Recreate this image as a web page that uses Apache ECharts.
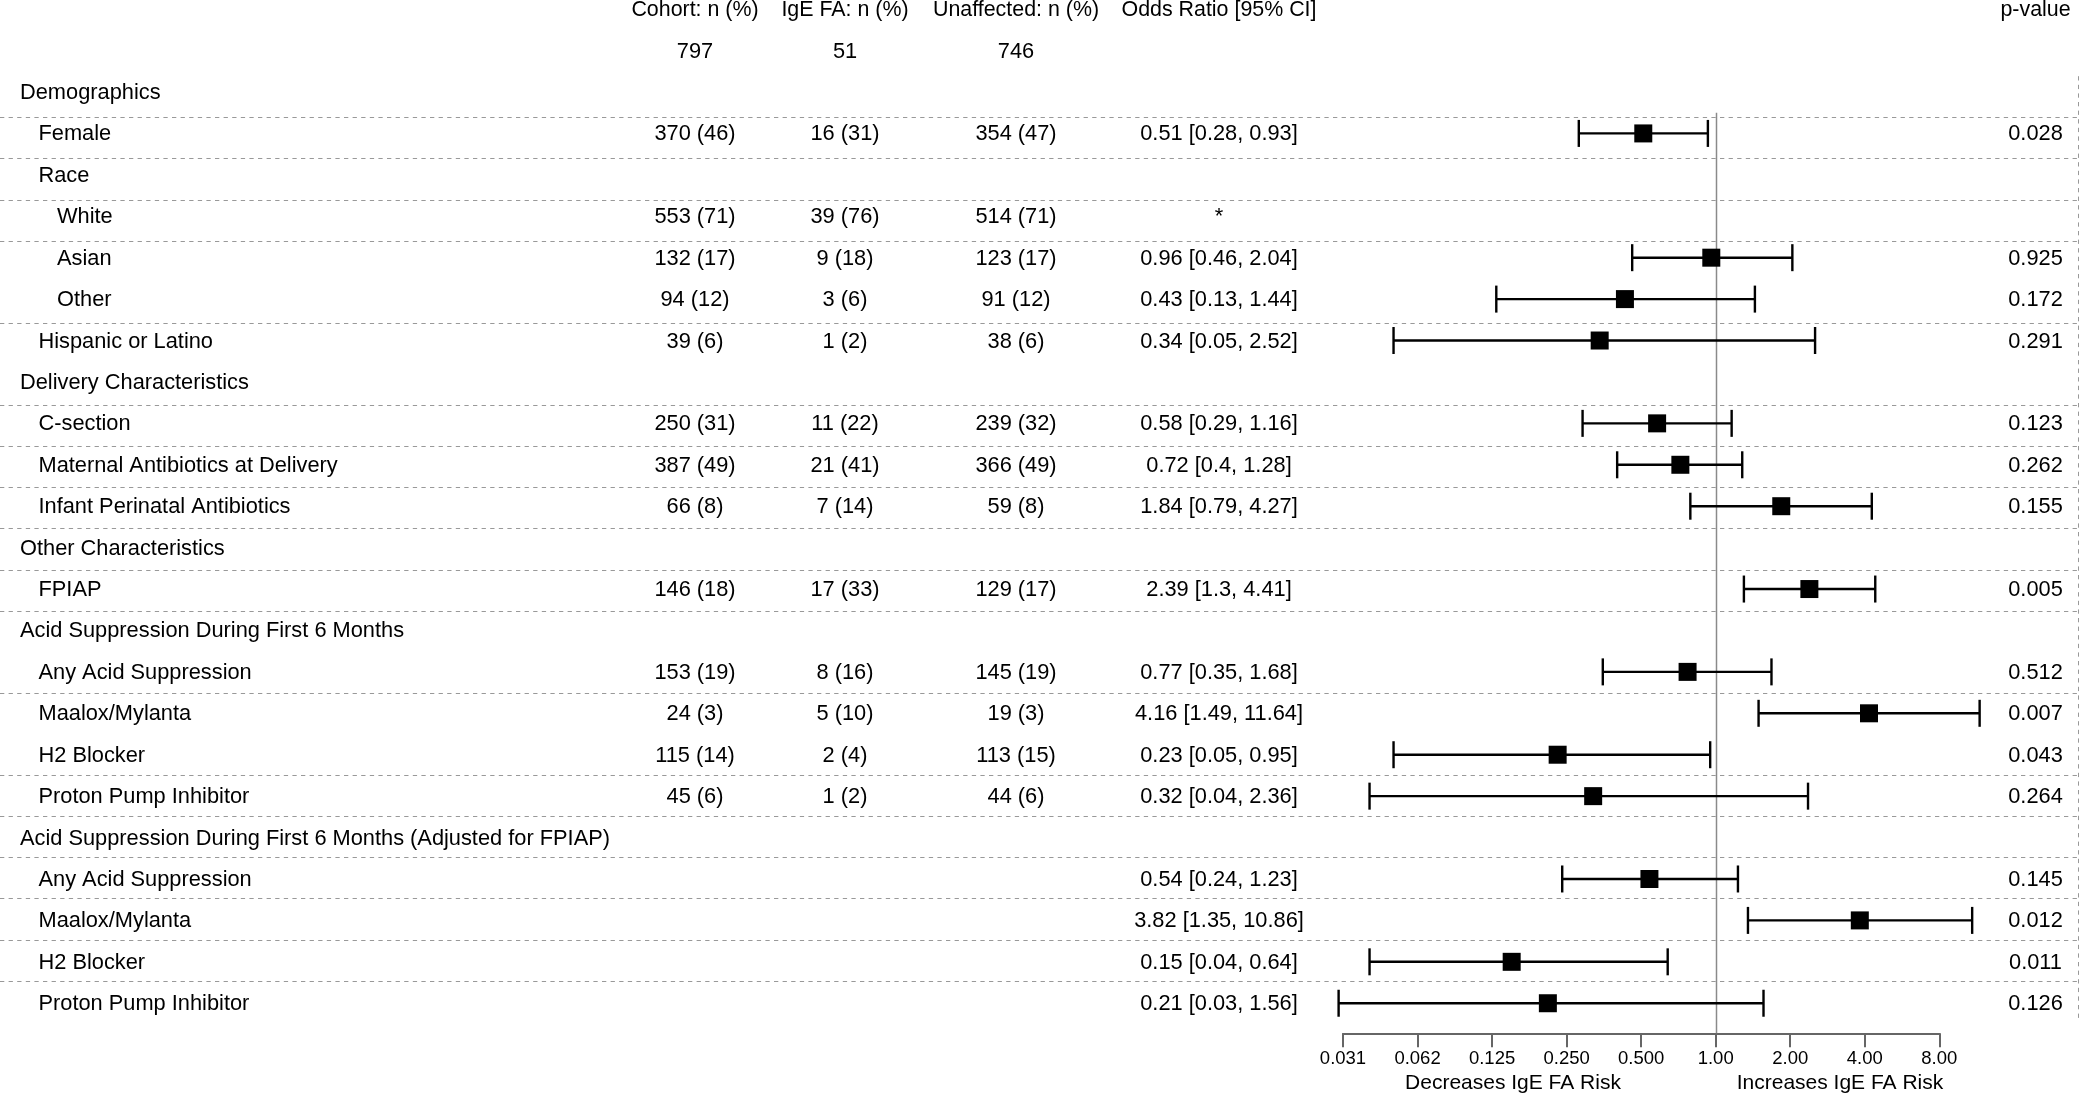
<!DOCTYPE html>
<html><head><meta charset="utf-8">
<script src="https://cdn.jsdelivr.net/npm/echarts@6/dist/echarts.min.js"></script>
<style>html,body{margin:0;padding:0;background:#fff}#c{width:2080px;height:1096px}</style>
</head><body><div id="c"></div><script>
// ---------------- DATA ----------------
const rowLabels = [
  'Demographics', 'Female', 'Race', 'White', 'Asian', 'Other', 'Hispanic or Latino',
  'Delivery Characteristics', 'C-section', 'Maternal Antibiotics at Delivery', 'Infant Perinatal Antibiotics',
  'Other Characteristics', 'FPIAP',
  'Acid Suppression During First 6 Months', 'Any Acid Suppression', 'Maalox/Mylanta', 'H2 Blocker', 'Proton Pump Inhibitor',
  'Acid Suppression During First 6 Months (Adjusted for FPIAP)', 'Any Acid Suppression', 'Maalox/Mylanta', 'H2 Blocker', 'Proton Pump Inhibitor'
];
const rowLevels = [0,1,1,2,2,2,1, 0,1,1,1, 0,1, 0,1,1,1,1, 0,1,1,1,1];
const cohortN = ['', '370 (46)', '', '553 (71)', '132 (17)', '94 (12)', '39 (6)',
  '', '250 (31)', '387 (49)', '66 (8)', '', '146 (18)',
  '', '153 (19)', '24 (3)', '115 (14)', '45 (6)', '', '', '', '', ''];
const igeN = ['', '16 (31)', '', '39 (76)', '9 (18)', '3 (6)', '1 (2)',
  '', '11 (22)', '21 (41)', '7 (14)', '', '17 (33)',
  '', '8 (16)', '5 (10)', '2 (4)', '1 (2)', '', '', '', '', ''];
const unaffectedN = ['', '354 (47)', '', '514 (71)', '123 (17)', '91 (12)', '38 (6)',
  '', '239 (32)', '366 (49)', '59 (8)', '', '129 (17)',
  '', '145 (19)', '19 (3)', '113 (15)', '44 (6)', '', '', '', '', ''];
const orText = ['', '0.51 [0.28, 0.93]', '', '*', '0.96 [0.46, 2.04]', '0.43 [0.13, 1.44]', '0.34 [0.05, 2.52]',
  '', '0.58 [0.29, 1.16]', '0.72 [0.4, 1.28]', '1.84 [0.79, 4.27]', '', '2.39 [1.3, 4.41]',
  '', '0.77 [0.35, 1.68]', '4.16 [1.49, 11.64]', '0.23 [0.05, 0.95]', '0.32 [0.04, 2.36]',
  '', '0.54 [0.24, 1.23]', '3.82 [1.35, 10.86]', '0.15 [0.04, 0.64]', '0.21 [0.03, 1.56]'];
const orEst = [null, 0.51, null, null, 0.96, 0.43, 0.34, null, 0.58, 0.72, 1.84, null, 2.39,
  null, 0.77, 4.16, 0.23, 0.32, null, 0.54, 3.82, 0.15, 0.21];
const ciLow = [null, 0.28, null, null, 0.46, 0.13, 0.05, null, 0.29, 0.4, 0.79, null, 1.3,
  null, 0.35, 1.49, 0.05, 0.04, null, 0.24, 1.35, 0.04, 0.03];
const ciHigh = [null, 0.93, null, null, 2.04, 1.44, 2.52, null, 1.16, 1.28, 4.27, null, 4.41,
  null, 1.68, 11.64, 0.95, 2.36, null, 1.23, 10.86, 0.64, 1.56];
const pValues = ['', '0.028', '', '', '0.925', '0.172', '0.291', '', '0.123', '0.262', '0.155', '', '0.005',
  '', '0.512', '0.007', '0.043', '0.264', '', '0.145', '0.012', '0.011', '0.126'];
const headers = ['Cohort: n (%)', 'IgE FA: n (%)', 'Unaffected: n (%)', 'Odds Ratio [95% CI]', 'p-value'];
const totals = ['797', '51', '746'];
const tickLabels = ['0.031', '0.062', '0.125', '0.250', '0.500', '1.00', '2.00', '4.00', '8.00'];
const axisTitles = ['Decreases IgE FA Risk', 'Increases IgE FA Risk'];
const separatorRows = [1,2,3,4,6,8,9,10,11,12,13,15,17,18,19,20,21,22];
const refValue = 1;
const axisMin = 1/32, axisMax = 8;

// ---------------- LAYOUT ----------------
const FONT_FAMILY = '"Liberation Sans", Arial, Helvetica, sans-serif';
const FS = 21.8, FS_HEAD = 21.4, FS_TITLE = 21;
const ROW_H = 41.42, ROW0 = 92;
const NROWS = rowLabels.length;
const TEXT_TOP = ROW0 - ROW_H / 2;
const FOREST_L = 1343, FOREST_R = 1939.3;
const AXIS_OFFSET = 9.4;
const colX = [695, 845, 1016, 1219, 2035.5];
const indentX = [20, 38.5, 57];
const TEXT_DY = 1;
const FRAME_TOP = 76.2, FRAME_ROW = 41.11;

function txt(text, x, y, align, size) {
  return { type: 'text', x: x, y: y, silent: true,
    style: { text: text, fill: '#000', fontSize: size || FS, fontFamily: FONT_FAMILY,
      align: align, verticalAlign: 'middle' } };
}

const chart = echarts.init(document.getElementById('c'), null, { renderer: 'canvas' });

const tableData = rowLabels.map((_, i) => [refValue, i]);
const forestData = [];
orEst.forEach((v, i) => { if (v != null) forestData.push([v, i, ciLow[i], ciHigh[i]]); });

chart.setOption({
  animation: false,
  backgroundColor: '#fff',
  grid: [
    { left: FOREST_L, width: FOREST_R - FOREST_L, top: TEXT_TOP, height: NROWS * ROW_H, containLabel: false },
    { left: 0, width: 2077.5, top: FRAME_TOP, height: NROWS * FRAME_ROW, containLabel: false }
  ],
  xAxis: [
    { gridIndex: 0, type: 'log', logBase: 2, min: axisMin, max: axisMax, interval: 1,
      position: 'bottom', offset: AXIS_OFFSET,
      axisLine: { show: true, lineStyle: { color: '#666', width: 2 } },
      axisTick: { show: true, length: 14, lineStyle: { color: '#666', width: 2 } },
      axisLabel: { margin: 16, fontSize: 18.5, color: '#000', fontFamily: FONT_FAMILY,
        formatter: function (v) { return tickLabels[Math.round(Math.log2(v) - Math.log2(axisMin))]; } },
      splitLine: { show: false } },
    { gridIndex: 1, type: 'value', min: 0, max: 1, show: false }
  ],
  yAxis: [
    { gridIndex: 0, type: 'category', data: rowLabels.map((_, i) => i), inverse: true, show: false },
    { gridIndex: 1, type: 'value', min: 0, max: NROWS, inverse: true, show: false }
  ],
  graphic: [
    txt(axisTitles[0], 1513, 1083, 'center', FS_TITLE),
    txt(axisTitles[1], 1840, 1083, 'center', FS_TITLE)
  ],
  series: [
    { // separators and right border
      type: 'custom', xAxisIndex: 1, yAxisIndex: 1, silent: true,
      data: separatorRows.map(k => [0, k]),
      encode: { x: 0, y: 1 },
      renderItem: function (params, api) {
        const cs = params.coordSys;
        const y = Math.round(api.coord([0, api.value(1)])[1]) + 0.5;
        const kids = [{ type: 'line', shape: { x1: cs.x, y1: y, x2: cs.x + cs.width, y2: y },
          style: { stroke: '#999', lineWidth: 1, lineDash: [4.3, 4.3] } }];
        if (params.dataIndex === 0) {
          const xr = Math.round(cs.x + cs.width) + 0.5;
          kids.push({ type: 'line', shape: { x1: xr, y1: cs.y, x2: xr, y2: cs.y + cs.height },
            style: { stroke: '#999', lineWidth: 1, lineDash: [4.3, 4.3] } });
        }
        return { type: 'group', children: kids };
      }
    },
    { // header rows
      type: 'custom', xAxisIndex: 0, yAxisIndex: 0, silent: true,
      data: [[refValue, 0]], encode: { x: 0, y: 1 },
      renderItem: function (params, api) {
        const y0 = api.coord([refValue, 0])[1];
        const band = api.coord([refValue, 1])[1] - y0;
        const kids = [];
        headers.forEach((h, j) => kids.push(txt(h, colX[j], y0 - 2 * band + TEXT_DY, 'center', FS_HEAD)));
        totals.forEach((t, j) => kids.push(txt(t, colX[j], y0 - band + TEXT_DY, 'center')));
        return { type: 'group', children: kids };
      }
    },
    { // table rows
      type: 'custom', xAxisIndex: 0, yAxisIndex: 0, silent: true,
      data: tableData, encode: { x: 0, y: 1 },
      renderItem: function (params, api) {
        const i = api.value(1);
        const y = api.coord([refValue, i])[1] + TEXT_DY;
        const kids = [txt(rowLabels[i], indentX[rowLevels[i]], y, 'left')];
        [cohortN[i], igeN[i], unaffectedN[i], orText[i], pValues[i]].forEach((t, j) => {
          if (t) kids.push(txt(t, colX[j], y, 'center'));
        });
        return { type: 'group', children: kids };
      }
    },
    { // reference line at OR = 1
      type: 'custom', xAxisIndex: 0, yAxisIndex: 0, silent: true,
      data: [[refValue, 1]], encode: { x: 0, y: 1 },
      renderItem: function (params, api) {
        const cs = params.coordSys;
        const p = api.coord([api.value(0), api.value(1)]);
        const band = api.coord([refValue, 2])[1] - p[1];
        const x = Math.round(p[0]) + 0.5;
        return { type: 'line', shape: { x1: x, y1: p[1] - band / 2, x2: x, y2: cs.y + cs.height + AXIS_OFFSET },
          style: { stroke: '#8a8a8a', lineWidth: 1.5 } };
      }
    },
    { // forest: CI bars and point estimates
      type: 'custom', xAxisIndex: 0, yAxisIndex: 0, silent: true,
      data: forestData, encode: { x: [0, 2, 3], y: 1 },
      renderItem: function (params, api) {
        const row = api.value(1);
        const p = api.coord([api.value(0), row]);
        const lo = api.coord([api.value(2), row]);
        const hi = api.coord([api.value(3), row]);
        const y = p[1];
        const cap = 13.5, sq = 18;
        const st = { stroke: '#000', lineWidth: 2.4 };
        return { type: 'group', children: [
          { type: 'line', shape: { x1: lo[0], y1: y, x2: hi[0], y2: y }, style: st },
          { type: 'line', shape: { x1: lo[0], y1: y - cap, x2: lo[0], y2: y + cap }, style: st },
          { type: 'line', shape: { x1: hi[0], y1: y - cap, x2: hi[0], y2: y + cap }, style: st },
          { type: 'rect', shape: { x: p[0] - sq / 2, y: y - sq / 2, width: sq, height: sq }, style: { fill: '#000' } }
        ] };
      }
    }
  ]
});
</script></body></html>
